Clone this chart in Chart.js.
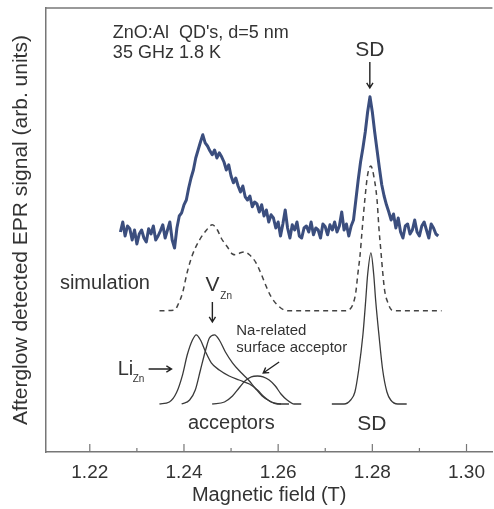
<!DOCTYPE html>
<html>
<head>
<meta charset="utf-8">
<script src="https://cdn.jsdelivr.net/npm/chart.js@4"></script>
<style>
  body { margin: 0; background: #fff; }
  canvas { display: block; }
</style>
</head>
<body>
<canvas id="epr" width="494" height="509"></canvas>
<script>
// tick labels (T)
const xTicks = [1.22, 1.24, 1.26, 1.28, 1.30];
const xMinorTicks = [1.23, 1.25, 1.27, 1.29];

// measured afterglow EPR signal, sampled every 0.5 mT from 1.2265 T
const signalStart = 1.2265;
const signalStep = 0.0005;
const signalValues = [
    55, 57.5, 54, 56.5, 55.8, 53, 55.5, 52, 54.5, 55.5,
    53.5, 52.5, 55.8, 54.5, 56.5, 53, 54, 55.3, 56.8, 53.5,
    55.5, 57.5, 53, 51, 56, 59, 59.8, 61.8, 63, 66,
    68.5, 70.5, 73.5, 75.5, 77.5, 79.3, 77.3, 76.5, 75.3, 74.3,
    75.5, 73.5, 74.8, 73.8, 72.5, 70.5, 71.8, 69, 67.3, 68.5,
    66.5, 65, 66.5, 63.8, 63, 64, 61.3, 62.5, 62, 60,
    61.8, 59, 60.5, 57.5, 59.3, 58.5, 56, 57.5, 54, 57,
    60.5, 56, 53.5, 56.8, 55.5, 57.5, 54, 53.5, 56, 56.5,
    55, 57.5, 54.3, 56, 55.5, 53.5, 57, 56.3, 54.3, 56.8,
    55.5, 57.5, 55, 56.5, 60, 55.5, 57, 54, 56.5, 58,
    63, 68, 72.5, 76, 80, 85, 88.8, 85, 80, 75.5,
    71, 66.8, 64, 61.8, 60, 58, 59.5, 56, 58.5, 55,
    53.5, 56.5, 57, 54.5, 55.5, 58, 55, 54, 56.5, 57.5,
    55.5, 53.5, 57, 56, 54.5, 54
];

// simulation (dashed)
const simField = [
    1.2348, 1.2380, 1.2388, 1.2397, 1.2407, 1.2418, 1.2433, 1.2448, 1.2460, 1.2471,
    1.2479, 1.2492, 1.2503, 1.2511, 1.2520, 1.2528, 1.2539, 1.2553, 1.2564, 1.2575,
    1.2585, 1.2598, 1.2613, 1.2628, 1.2740, 1.2750, 1.2759, 1.2765, 1.2769, 1.2774,
    1.2778, 1.2784, 1.2790, 1.2797, 1.2803, 1.2810, 1.2814, 1.2818, 1.2822, 1.2826,
    1.2833, 1.2841, 1.2852, 1.2947
];
const simValues = [
    35.3, 35.5, 37, 39.8, 45, 49.3, 53, 55.5, 56.8, 55.5,
    53.5, 51.3, 49.5, 49.3, 49.8, 50, 49.3, 47.3, 44.5, 41.3,
    38.8, 36.8, 35.5, 35.3, 35.3, 35.5, 37, 40, 44.3, 49.3,
    55, 63, 69.3, 71.5, 69, 63, 56, 50.5, 45, 40.5,
    37.3, 35.5, 35.3, 35.3
];

// acceptor components
const liField = [1.2348, 1.2369, 1.2384, 1.2397, 1.2407, 1.2418, 1.2426, 1.2435, 1.2446, 1.2458,
    1.2475, 1.2496, 1.2517, 1.2539, 1.2556, 1.2570, 1.2585, 1.2606];
const liValues = [12, 12.5, 14.8, 19.3, 24.3, 28, 29.3, 28, 25, 22.3,
    20.5, 19, 18, 17, 15.5, 13.8, 12.5, 12];

const vznField = [1.2395, 1.2412, 1.2424, 1.2435, 1.2446, 1.2454, 1.2465, 1.2475, 1.2488, 1.2503,
    1.2520, 1.2537, 1.2551, 1.2566, 1.2581, 1.2598, 1.2623];
const vznValues = [12, 13, 15.5, 20.5, 25.5, 28.5, 29.3, 28, 25, 22.3,
    20, 18, 16, 14, 12.8, 12, 12];

const naField = [1.2460, 1.2486, 1.2503, 1.2517, 1.2530, 1.2543, 1.2556, 1.2568, 1.2581, 1.2594,
    1.2606, 1.2619, 1.2634, 1.2649];
const naValues = [12, 12.5, 14, 16, 17.8, 18.8, 19, 18.8, 18, 16.5,
    14.5, 13, 12, 12];

// shallow donor component
const sdField = [1.2714, 1.2740, 1.2754, 1.2763, 1.2771, 1.2780, 1.2786, 1.2790, 1.2797, 1.2803,
    1.2807, 1.2814, 1.2822, 1.2831, 1.2839, 1.2854, 1.2873];
const sdValues = [12, 12, 13, 15, 20.5, 29.3, 38, 44.3, 49.8, 44.3,
    38, 29.3, 20.5, 15, 13, 12, 12];

const FONT = "'Liberation Sans', Arial, sans-serif";
const TEXT = '#333';
const AXIS = '#777';

function pairs(xs, ys) {
    return xs.map((x, i) => ({ x: x, y: ys[i] }));
}

function thinLine(xs, ys) {
    return {
        data: pairs(xs, ys),
        borderColor: '#3a3a3a',
        borderWidth: 1.3,
        cubicInterpolationMode: 'monotone'
    };
}

// labels, arrows, inward ticks and top frame
const annotations = {
    id: 'annotations',
    afterDraw(chart) {
        const ctx = chart.ctx;
        const xs = chart.scales.x, ys = chart.scales.y;
        const area = chart.chartArea;
        const px = v => xs.getPixelForValue(v);
        const py = v => ys.getPixelForValue(v);

        ctx.save();
        ctx.strokeStyle = AXIS;
        ctx.lineWidth = 1.5;
        ctx.beginPath();
        ctx.moveTo(area.left, area.top);
        ctx.lineTo(area.right, area.top);
        ctx.stroke();
        ctx.lineWidth = 1.2;
        ctx.beginPath();
        xTicks.forEach(t => { ctx.moveTo(px(t), area.bottom); ctx.lineTo(px(t), area.bottom - 8); });
        xMinorTicks.forEach(t => { ctx.moveTo(px(t), area.bottom); ctx.lineTo(px(t), area.bottom - 4); });
        ctx.stroke();

        function text(str, x, y, size, align) {
            ctx.font = size + 'px ' + FONT;
            ctx.fillStyle = TEXT;
            ctx.textAlign = align || 'left';
            ctx.textBaseline = 'middle';
            ctx.fillText(str, px(x), py(y));
        }
        function arrow(x1, y1, x2, y2) {
            const a = px(x1), b = py(y1), c = px(x2), d = py(y2);
            const ang = Math.atan2(d - b, c - a);
            ctx.strokeStyle = '#222';
            ctx.lineWidth = 1.4;
            ctx.beginPath();
            ctx.moveTo(a, b);
            ctx.lineTo(c, d);
            ctx.moveTo(c - 6 * Math.cos(ang - 0.55), d - 6 * Math.sin(ang - 0.55));
            ctx.lineTo(c, d);
            ctx.lineTo(c - 6 * Math.cos(ang + 0.55), d - 6 * Math.sin(ang + 0.55));
            ctx.stroke();
        }

        text("ZnO:Al  QD's, d=5 nm", 1.2249, 104.75, 18);
        text('35 GHz 1.8 K', 1.2249, 99.75, 18);
        text('SD', 1.27947, 100.5, 21, 'center');
        arrow(1.27947, 97.5, 1.27947, 91);

        text('simulation', 1.21365, 42.25, 20);
        text('V', 1.24455, 41.75, 21);
        text('Zn', 1.24772, 39, 10);
        arrow(1.24603, 37.5, 1.24603, 32.5);

        text('Na-related', 1.25111, 30.25, 15);
        text('surface acceptor', 1.25111, 26, 15);
        arrow(1.26021, 22.5, 1.25683, 19.75);

        text('Li', 1.22593, 20.75, 20);
        text('Zn', 1.2291, 18.25, 10);
        arrow(1.23249, 20.75, 1.23735, 20.75);

        text('acceptors', 1.25005, 7.25, 20, 'center');
        text('SD', 1.2799, 7, 21, 'center');
        ctx.restore();
    }
};

new Chart(document.getElementById('epr'), {
    type: 'line',
    data: {
        datasets: [
            {
                data: signalValues.map((y, i) => ({ x: signalStart + i * signalStep, y: y })),
                borderColor: '#3b4e7e',
                borderWidth: 3,
                borderJoinStyle: 'round',
                tension: 0
            },
            {
                data: pairs(simField, simValues),
                borderColor: '#444',
                borderWidth: 1.5,
                borderDash: [5, 4],
                cubicInterpolationMode: 'monotone'
            },
            thinLine(liField, liValues),
            thinLine(vznField, vznValues),
            thinLine(naField, naValues),
            thinLine(sdField, sdValues)
        ]
    },
    options: {
        responsive: false,
        devicePixelRatio: 1,
        animation: false,
        layout: { padding: { top: 8, right: 0, left: 0, bottom: 0 } },
        elements: { point: { radius: 0 } },
        plugins: { legend: { display: false }, tooltip: { enabled: false } },
        scales: {
            x: {
                type: 'linear',
                min: 1.2107,
                max: 1.3055,
                grid: { display: false, drawTicks: false },
                border: { color: AXIS, width: 1.5 },
                afterBuildTicks: s => { s.ticks = xTicks.map(v => ({ value: v })); },
                afterFit: s => { s.height = 57; },
                ticks: {
                    padding: 9,
                    color: TEXT,
                    font: { family: FONT, size: 19 },
                    maxRotation: 0,
                    callback: v => v.toFixed(2)
                },
                title: {
                    display: true,
                    text: 'Magnetic field (T)',
                    color: TEXT,
                    font: { family: FONT, size: 20 },
                    padding: { top: 0, bottom: 2 }
                }
            },
            y: {
                min: 0,
                max: 111,
                grid: { display: false, drawTicks: false },
                border: { color: AXIS, width: 1.5 },
                ticks: { display: false },
                afterFit: s => { s.width = 46; },
                title: {
                    display: true,
                    text: 'Afterglow detected EPR signal (arb. units)',
                    color: TEXT,
                    font: { family: FONT, size: 21 },
                    padding: { top: 9, bottom: 0 }
                }
            }
        }
    },
    plugins: [annotations]
});
</script>
</body>
</html>
